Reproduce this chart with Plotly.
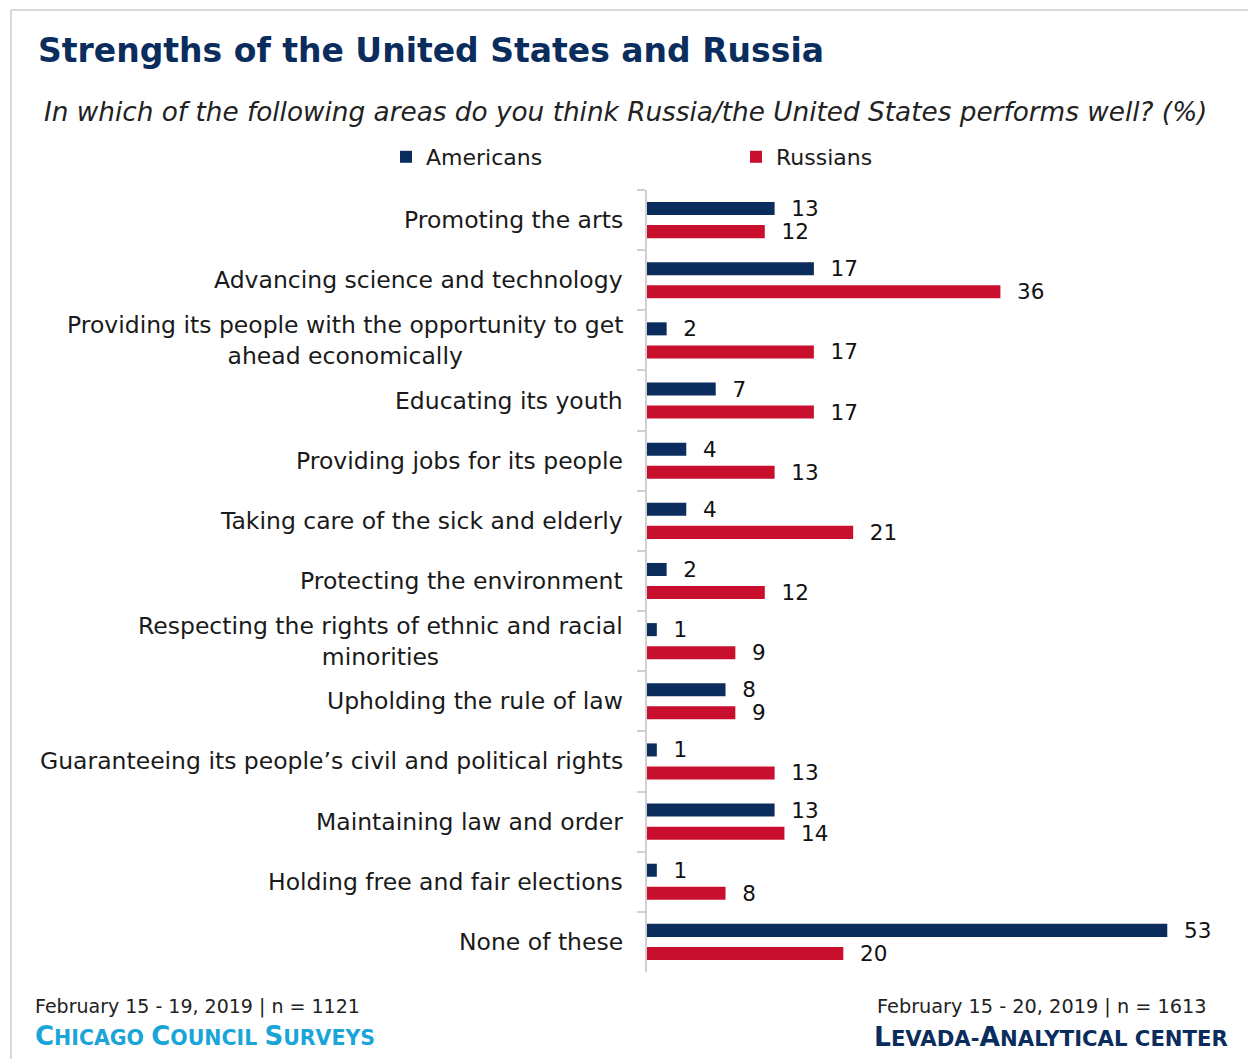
import plotly.graph_objects as go

# Survey areas, top to bottom
categories = [
    "Promoting the arts",
    "Advancing science and technology",
    "Providing its people with the opportunity to get<br>ahead economically",
    "Educating its youth",
    "Providing jobs for its people",
    "Taking care of the sick and elderly",
    "Protecting the environment",
    "Respecting the rights of ethnic and racial<br>minorities",
    "Upholding the rule of law",
    "Guaranteeing its people\u2019s civil and political rights",
    "Maintaining law and order",
    "Holding free and fair elections",
    "None of these",
]
americans = [13, 17, 2, 7, 4, 4, 2, 1, 8, 1, 13, 1, 53]
russians = [12, 36, 17, 17, 13, 21, 12, 9, 9, 13, 14, 8, 20]

NAVY = "#0a2d5e"
RED = "#c8102e"
FONT = "DejaVu Sans"

W, H = 1248, 1059
L, R, T, B = 647, 12, 190, 87
PW, PH = W - L - R, H - T - B


def px(x):
    return (x - L) / PW


def py(y):
    return 1 - (y - T) / PH


pad = "\u00a0\u00a0"

fig = go.Figure()
for name, vals, col in (("Americans", americans, NAVY), ("Russians", russians, RED)):
    fig.add_trace(go.Bar(
        name=name, y=categories, x=vals, orientation="h",
        marker=dict(color=col, line=dict(width=0)),
        text=[pad + str(v) for v in vals], textposition="outside",
        textfont=dict(family=FONT, size=21.5, color="#111111"),
        constraintext="none", cliponaxis=False, hoverinfo="skip",
    ))

annotations = []
# Category labels, centred lines, right-aligned block
for c in categories:
    annotations.append(dict(
        x=0, xref="paper", y=c, yref="y", text=c, showarrow=False,
        xanchor="right", yanchor="middle", align="center", xshift=-22,
        font=dict(family=FONT, size=23.5, color="#1a1a1a"),
    ))

annotations += [
    dict(x=px(36), y=py(50), xref="paper", yref="paper", showarrow=False,
         xanchor="left", yanchor="middle",
         text="<b>Strengths of the United States and Russia</b>",
         font=dict(family=FONT, size=33, color=NAVY)),
    dict(x=px(625), y=py(112), xref="paper", yref="paper", showarrow=False,
         xanchor="center", yanchor="middle",
         text="<i>In which of the following areas do you think Russia/the United States performs well? (%)</i>",
         font=dict(family=FONT, size=26.3, color="#222222")),
    dict(x=px(33), y=py(1006), xref="paper", yref="paper", showarrow=False,
         xanchor="left", yanchor="middle",
         text="February 15 - 19, 2019 | n = 1121",
         font=dict(family=FONT, size=19, color="#222222")),
    dict(x=px(33), y=py(1036), xref="paper", yref="paper", showarrow=False,
         xanchor="left", yanchor="middle",
         text="<b><span style='font-size:26px'>C</span>HICAGO <span style='font-size:26px'>C</span>OUNCIL <span style='font-size:26px'>S</span>URVEYS</b>",
         font=dict(family=FONT, size=20.5, color="#1aa5d8")),
    dict(x=px(875), y=py(1006), xref="paper", yref="paper", showarrow=False,
         xanchor="left", yanchor="middle",
         text="February 15 - 20, 2019 | n = 1613",
         font=dict(family=FONT, size=19.3, color="#222222")),
    dict(x=px(1230), y=py(1036), xref="paper", yref="paper", showarrow=False,
         xanchor="right", yanchor="middle",
         text="<b><span style='font-size:26.5px'>L</span>EVADA-<span style='font-size:26.5px'>A</span>NALYTICAL CENTER</b>",
         font=dict(family=FONT, size=21.2, color=NAVY)),
]

shapes = [
    dict(type="line", xref="paper", yref="paper", x0=px(11), x1=px(W), y0=py(10), y1=py(10),
         line=dict(color="#d9d9d9", width=2)),
    dict(type="line", xref="paper", yref="paper", x0=px(11), x1=px(11), y0=py(10), y1=py(H),
         line=dict(color="#d9d9d9", width=2)),
]

fig.update_layout(
    width=W, height=H, autosize=False,
    margin=dict(l=L, r=R, t=T, b=B, pad=0),
    paper_bgcolor="white", plot_bgcolor="white",
    barmode="group", bargap=0.233, bargroupgap=0.435,
    showlegend=True,
    legend=dict(
        orientation="h", x=px(386), y=py(157), xanchor="left", yanchor="middle",
        entrywidth=305, entrywidthmode="pixels", traceorder="normal",
        font=dict(family=FONT, size=22, color="#1a1a1a"), itemclick=False,
        bgcolor="rgba(0,0,0,0)",
    ),
    xaxis=dict(visible=False, range=[0, 60], fixedrange=True),
    yaxis=dict(
        autorange="reversed", showticklabels=False, showgrid=False, zeroline=False,
        showline=True, linecolor="#d0d0d0", linewidth=2,
        ticks="outside", tickson="boundaries", ticklen=8, tickcolor="#d0d0d0", tickwidth=2,
        fixedrange=True,
    ),
    annotations=annotations, shapes=shapes,
)

fig.write_html("out.html", config={"displayModeBar": False})
